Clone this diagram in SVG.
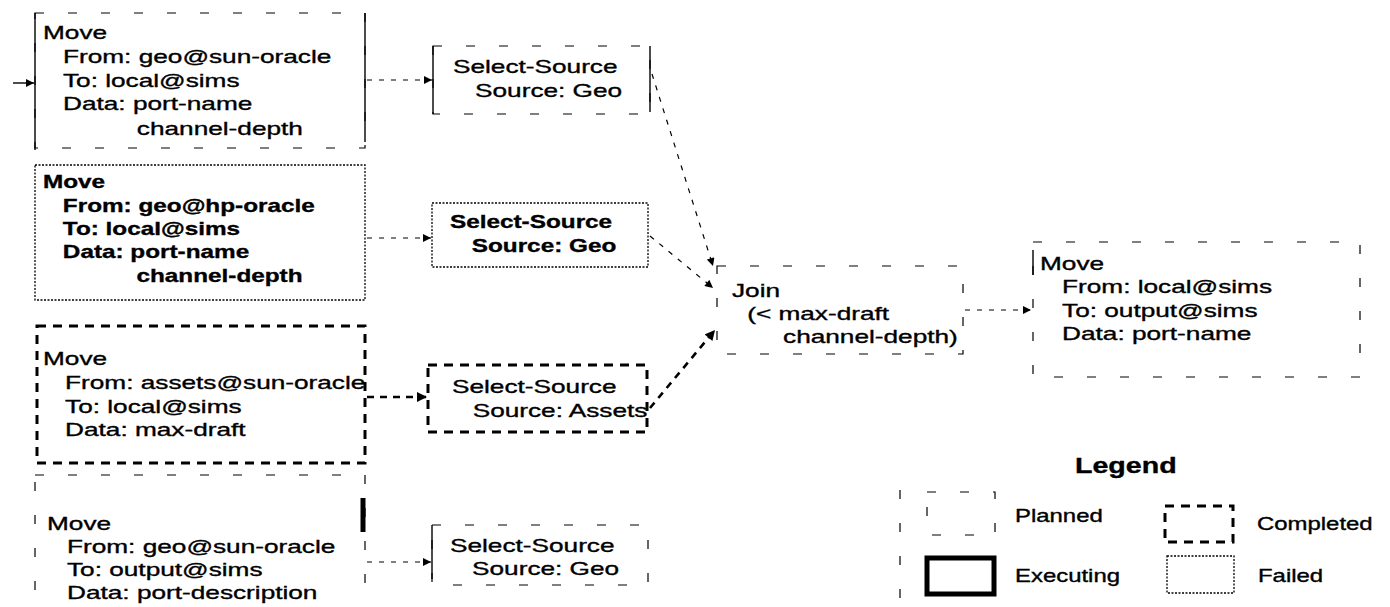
<svg xmlns="http://www.w3.org/2000/svg" width="1390" height="607" viewBox="0 0 1390 607">
<style>
  text { font-family: "Liberation Sans", Arial, sans-serif; font-size: 19px; fill: #000; stroke: #000; stroke-width: 0.35; }
  .b text, text.b { font-weight: bold; }
  .lg { font-size: 18px; }
  .title { font-size: 22px; font-weight: bold; }
  .planned { fill: none; stroke: #000; stroke-width: 1.2; stroke-dasharray: 9 24; }
  .solid { fill: none; stroke: #000; stroke-width: 1.4; }
  .failed { fill: none; stroke: #000; stroke-width: 1.3; stroke-dasharray: 2 1.5; }
  .completed { fill: none; stroke: #000; stroke-width: 3; stroke-dasharray: 9 7; }
  .executing { fill: none; stroke: #000; stroke-width: 5; }
  .c-planned { fill: none; stroke: #000; stroke-width: 1.2; stroke-dasharray: 5 7; }
  .c-solid { fill: none; stroke: #000; stroke-width: 1.4; }
  .c-completed { fill: none; stroke: #000; stroke-width: 2.6; stroke-dasharray: 7 6; }
</style>
<defs>
  <marker id="ah" viewBox="0 0 10 10" refX="10" refY="5" markerWidth="9" markerHeight="8" markerUnits="userSpaceOnUse" orient="auto">
    <path d="M0,0 L10,5 L0,10 z" fill="#000"/>
  </marker>
  <marker id="ahb" viewBox="0 0 10 10" refX="10" refY="5" markerWidth="11" markerHeight="10" markerUnits="userSpaceOnUse" orient="auto">
    <path d="M0,0 L10,5 L0,10 z" fill="#000"/>
  </marker>
</defs>
<rect width="1390" height="607" fill="#fff"/>

<g id="connectors">
  <line class="c-solid" x1="13" y1="83" x2="34" y2="83" marker-end="url(#ah)"/>
  <line class="c-planned" x1="367" y1="80" x2="432" y2="80" marker-end="url(#ah)"/>
  <line class="c-planned" x1="367" y1="238" x2="431" y2="238" marker-end="url(#ah)"/>
  <line class="c-completed" x1="367" y1="397" x2="427" y2="397" marker-end="url(#ahb)"/>
  <line class="c-planned" x1="367" y1="562" x2="431" y2="562" marker-end="url(#ah)"/>
  <line class="c-planned" x1="652" y1="74" x2="713" y2="266" marker-end="url(#ah)"/>
  <line class="c-planned" x1="650" y1="236" x2="713" y2="288" marker-end="url(#ah)"/>
  <line class="c-completed" x1="650" y1="408" x2="715" y2="330" marker-end="url(#ahb)"/>
  <line class="c-planned" x1="965" y1="310" x2="1031" y2="310" marker-end="url(#ah)"/>
</g>

<g id="move-geo-sun-local">
  <rect class="planned" x="35" y="13" width="330" height="135"/>
  <line class="solid" x1="35" y1="13" x2="35" y2="150"/>
  <line class="solid" x1="365" y1="13" x2="365" y2="142"/>
  <g transform="translate(43,39) scale(1.38,1)">
    <text x="0" y="0">Move</text>
    <text x="14.5" y="24">From: geo@sun-oracle</text>
    <text x="14.5" y="48">To: local@sims</text>
    <text x="14.5" y="71">Data: port-name</text>
    <text x="68" y="96">channel-depth</text>
  </g>
</g>

<g id="select-geo-1">
  <rect class="planned" x="433" y="46" width="217" height="68"/>
  <line class="solid" x1="433" y1="46" x2="433" y2="114"/>
  <line class="solid" x1="650" y1="46" x2="650" y2="112"/>
  <g transform="translate(453,73) scale(1.38,1)">
    <text x="0" y="0">Select-Source</text>
    <text x="16" y="24">Source: Geo</text>
  </g>
</g>

<g id="move-geo-hp-local" class="b">
  <rect class="failed" x="35" y="165" width="330" height="135"/>
  <g transform="translate(43,188) scale(1.28,1)">
    <text x="0" y="0">Move</text>
    <text x="15.5" y="24">From: geo@hp-oracle</text>
    <text x="15.5" y="47">To: local@sims</text>
    <text x="15.5" y="70">Data: port-name</text>
    <text x="73" y="94">channel-depth</text>
  </g>
</g>

<g id="select-geo-2" class="b">
  <rect class="failed" x="432" y="203" width="216" height="64"/>
  <g transform="translate(450,228) scale(1.28,1)">
    <text x="0" y="0">Select-Source</text>
    <text x="17" y="24">Source: Geo</text>
  </g>
</g>

<g id="move-assets-local">
  <rect class="completed" x="37" y="326" width="328" height="137"/>
  <g transform="translate(43,365) scale(1.38,1)">
    <text x="0" y="0">Move</text>
    <text x="16" y="24">From: assets@sun-oracle</text>
    <text x="16" y="48">To: local@sims</text>
    <text x="16" y="71">Data: max-draft</text>
  </g>
</g>

<g id="select-assets">
  <rect class="completed" x="428" y="365" width="219" height="67"/>
  <g transform="translate(452,393) scale(1.38,1)">
    <text x="0" y="0">Select-Source</text>
    <text x="15" y="24">Source: Assets</text>
  </g>
</g>

<g id="join">
  <rect class="planned" x="717" y="266" width="246" height="88"/>
  <g transform="translate(732,297) scale(1.38,1)">
    <text x="0" y="0">Join</text>
    <text x="11" y="23">(&lt; max-draft</text>
    <text x="37" y="46">channel-depth)</text>
  </g>
</g>

<g id="move-local-output">
  <rect class="planned" x="1033" y="242" width="327" height="135"/>
  <line class="solid" x1="1033" y1="250" x2="1033" y2="275"/>
  <g transform="translate(1040,270) scale(1.38,1)">
    <text x="0" y="0">Move</text>
    <text x="16" y="23">From: local@sims</text>
    <text x="16" y="47">To: output@sims</text>
    <text x="16" y="70">Data: port-name</text>
  </g>
</g>

<g id="move-geo-sun-output">
  <rect class="planned" x="35" y="475" width="330" height="140"/>
  <line class="executing" x1="363" y1="498" x2="363" y2="532"/>
  <g transform="translate(47,530) scale(1.38,1)">
    <text x="0" y="0">Move</text>
    <text x="14.5" y="23">From: geo@sun-oracle</text>
    <text x="14.5" y="46">To: output@sims</text>
    <text x="14.5" y="69">Data: port-description</text>
  </g>
</g>

<g id="select-geo-3">
  <rect class="planned" x="432" y="525" width="216" height="60"/>
  <line class="solid" x1="432" y1="525" x2="432" y2="579"/>
  <g transform="translate(450,552) scale(1.38,1)">
    <text x="0" y="0">Select-Source</text>
    <text x="16" y="23">Source: Geo</text>
  </g>
</g>

<g id="legend">
  <line class="planned" x1="900" y1="490" x2="900" y2="602"/>
  <text class="title" x="1075" y="473" transform="translate(1075,0) scale(1.3,1) translate(-1075,0)">Legend</text>
  <rect class="planned" x="927" y="492" width="68" height="43"/>
  <rect class="completed" x="1165" y="506" width="68" height="36"/>
  <rect class="executing" x="927" y="558" width="67" height="36"/>
  <rect class="failed" x="1167" y="556" width="67" height="37"/>
  <g class="lg">
    <text class="lg" x="1015" y="522" transform="translate(1015,0) scale(1.33,1) translate(-1015,0)">Planned</text>
    <text class="lg" x="1257" y="530" transform="translate(1257,0) scale(1.33,1) translate(-1257,0)">Completed</text>
    <text class="lg" x="1015" y="582" transform="translate(1015,0) scale(1.33,1) translate(-1015,0)">Executing</text>
    <text class="lg" x="1258" y="582" transform="translate(1258,0) scale(1.33,1) translate(-1258,0)">Failed</text>
  </g>
</g>
</svg>
